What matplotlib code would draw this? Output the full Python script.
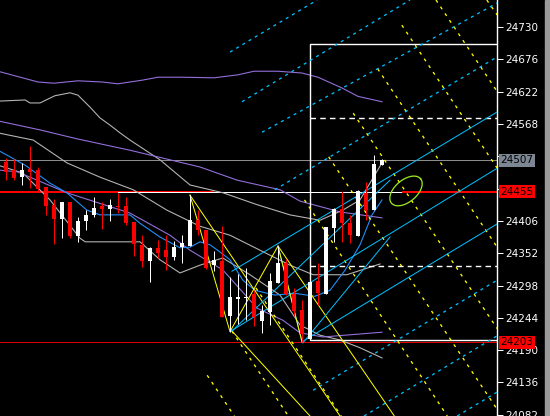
import numpy as np
import matplotlib
matplotlib.use('Agg')
import matplotlib.pyplot as plt

plt.rcParams['lines.scale_dashes'] = False

# candles: bar index 0..47
opens = [24505, 24491, 24480, 24493, 24491, 24463, 24433, 24409, 24438, 24380,
         24406, 24416, 24431, 24426, 24431, 24431, 24404, 24366, 24339, 24360,
         24357, 24345, 24363, 24364, 24408, 24390, 24332, 24339, 24247, 24275,
         24277, 24284, 24239, 24254, 24302, 24335, 24284, 24257, 24208, 24306,
         24284, 24394, 24425, 24403, 24381, 24452, 24424, 24499]
highs = [24511, 24509, 24502, 24531, 24496, 24463, 24442, 24438, 24438, 24412,
         24424, 24446, 24438, 24442, 24453, 24446, 24404, 24382, 24363, 24374,
         24382, 24373, 24382, 24449, 24424, 24390, 24355, 24397, 24312, 24317,
         24327, 24291, 24266, 24319, 24364, 24342, 24294, 24273, 24306, 24336,
         24396, 24427, 24456, 24416, 24458, 24471, 24516, 24509]
lows = [24474, 24474, 24466, 24461, 24455, 24416, 24368, 24377, 24377, 24370,
        24390, 24412, 24392, 24406, 24419, 24399, 24347, 24329, 24304, 24344,
        24324, 24341, 24336, 24364, 24382, 24325, 24323, 24246, 24221, 24234,
        24240, 24230, 24219, 24232, 24302, 24282, 24247, 24204, 24207, 24266,
        24284, 24370, 24371, 24369, 24381, 24408, 24424, 24499]
closes = [24488, 24478, 24491, 24487, 24460, 24431, 24409, 24437, 24381, 24406,
          24416, 24428, 24426, 24433, 24429, 24403, 24367, 24339, 24361, 24352,
          24345, 24363, 24369, 24408, 24390, 24328, 24341, 24246, 24278, 24278,
          24279, 24245, 24256, 24306, 24335, 24284, 24256, 24217, 24304, 24285,
          24396, 24425, 24403, 24382, 24456, 24424, 24501, 24507]

# bollinger (gray)
bb_up_x = [-1, 2.4, 3, 4.25, 6.1, 8, 9, 10.5, 11.75, 13, 14.25, 15.5, 19.25, 23, 27.1, 31.4, 35.5, 39.25, 42.1, 44.25, 47]
bb_up_y = [24606, 24608, 24603, 24603, 24615, 24620, 24616, 24596, 24578, 24566, 24553, 24541, 24508, 24466, 24453, 24433, 24416, 24407, 24424, 24441, 24503]
bb_mid_x = [-1, 3.4, 7.6, 11.75, 15.9, 20.1, 24.25, 28, 31.75, 35.5, 38.4, 42.6, 46.75]
bb_mid_y = [24553, 24541, 24503, 24479, 24458, 24424, 24397, 24382, 24357, 24332, 24316, 24316, 24334]
bb_low_x = [-1, 2.1, 5.5, 9.25, 9.9, 16.75, 19.25, 21.75, 24.25, 27.1, 30.5, 34.25, 36.75, 39.25, 41.75, 44.25, 47]
bb_low_y = [24499, 24486, 24441, 24377, 24371, 24371, 24341, 24319, 24332, 24344, 24316, 24282, 24232, 24215, 24207, 24194, 24177]

# second band (purple)
pu_up_x = [-1, 4, 6, 9, 12, 14, 17, 19, 22, 26, 29, 31, 34, 37, 39, 42, 44, 47]
pu_up_y = [24656, 24638, 24636, 24640, 24638, 24635, 24641, 24646, 24646, 24645, 24650, 24656, 24656, 24653, 24646, 24628, 24614, 24605]
pu_mid_x = [-1, 4.25, 8.9, 15.5, 24.25, 28.9, 34.25, 36.75, 41.75, 47]
pu_mid_y = [24573, 24558, 24543, 24524, 24496, 24474, 24458, 24439, 24421, 24411]
pu_low_x = [-1, 1.4, 7.6, 15.5, 20.5, 23, 27.1, 31.4, 34.6, 36.75, 39.6, 47]
pu_low_y = [24491, 24488, 24453, 24419, 24382, 24357, 24324, 24260, 24240, 24219, 24212, 24220]

# fast MA (blue)
ma_x = [-1, 2.4, 5.5, 7.6, 10.1, 11.75, 15.5, 16.75, 19.25, 21.75, 23, 24.25, 25.5, 26.75, 28,
        29.6, 31.1, 33.6, 36.1, 38.6, 40.5, 42.4, 44.25, 45.75, 47]
ma_y = [24524, 24499, 24469, 24453, 24424, 24416, 24416, 24402, 24379, 24361, 24362, 24371, 24366, 24354, 24341,
        24307, 24290, 24282, 24285, 24280, 24290, 24324, 24366, 24416, 24441]

# swing points (zigzag)
piv_x = [23, 28, 34, 37]
piv_y = [24449, 24221, 24364, 24204]

# yellow dashed parallels: (x0, p0, x1, p1)
yel_dash = [(25.15, 24148, 28.54, 24080), (28.23, 24222, 35.29, 24080), (31.24, 24294, 41.91, 24080),
            (37.31, 24441, 55.16, 24080), (40.33, 24513, 61.4, 24091), (43.4, 24586, 61.4, 24226),
            (46.46, 24660, 61.4, 24362), (49.48, 24733, 61.4, 24494), (53.75, 24775, 61.4, 24622),
            (60.1, 24775, 61.4, 24750)]
# yellow solid fan lines
yel_solid = [(23, 24449, 41.75, 24080), (28.25, 24222, 38, 24080), (34, 24364, 48.54, 24080)]

# cyan channel lines
cy_dash = [(28, 24688, 38.9, 24775), (29.5, 24605, 50.5, 24775), (32, 24554, 61.4, 24770),
           (33.6, 24458, 61.4, 24680), (38.4, 24123, 61.4, 24307), (44.75, 24080, 61.4, 24214),
           (56.4, 24080, 61.4, 24120)]
cy_solid = [(28.25, 24322, 61.4, 24588), (28, 24221, 61.4, 24494), (37, 24204, 61.4, 24401),
            (28.25, 24222, 48, 24474), (37.1, 24202, 48, 24379), (34, 24364, 37, 24204)]

# box
box_left, box_top, box_bot = 38, 24702, 24207
box_dash = [24578, 24331]

last_price = 24507
res_price = 24455
sup_price = 24203
ticks = [24082, 24136, 24190, 24244, 24298, 24352, 24406, 24460, 24514, 24568, 24622, 24676, 24730]
hidden = [24460, 24514]  # covered by price boxes

XMIN, XMAX = -0.75, 61.375
YMIN, YMAX = 24080, 24775

fig = plt.figure(figsize=(5.5, 4.16), dpi=100, facecolor='black')
ax = fig.add_axes([0, 0, 497 / 550, 1])
ax.set_facecolor('black')
ax.set_xlim(XMIN, XMAX)
ax.set_ylim(YMIN, YMAX)

px = 0.72  # one pixel in points
ydash = (0, (2.2, 3.6))
cdash = (0, (2.2, 3.0))

# horizontal levels
ax.axhline(last_price, color='#8c8c8c', lw=px, zorder=2)
ax.axhline(sup_price, color='#e00000', lw=px, zorder=2)
ax.plot([XMIN, 25.9], [res_price, res_price], color='#ff0000', lw=2 * px, zorder=2)
ax.plot([14, XMAX], [res_price - 1.5, res_price - 1.5], color='white', lw=px, zorder=2)
ax.plot([49.6, XMAX], [res_price, res_price], color='#ff0000', lw=2 * px, zorder=2)

# indicator lines
for xs, ys, c in [(bb_up_x, bb_up_y, '#b4b4b4'), (bb_mid_x, bb_mid_y, '#b4b4b4'), (bb_low_x, bb_low_y, '#b4b4b4'),
                  (pu_up_x, pu_up_y, '#9370db'), (pu_mid_x, pu_mid_y, '#9370db'), (pu_low_x, pu_low_y, '#9370db'),
                  (ma_x, ma_y, '#1e90ff')]:
    ax.plot(xs, ys, color=c, lw=px * 1.1, zorder=3)

# rectangle
ax.plot([XMAX, box_left, box_left, XMAX], [box_top, box_top, box_bot, box_bot], color='white', lw=1.4 * px, zorder=3)
for p in box_dash:
    ax.plot([box_left, XMAX], [p, p], color='white', lw=1.4 * px, ls=(0, (4, 3)), zorder=3)

# fib / gann lines
for x0, p0, x1, p1 in yel_dash:
    ax.plot([x0, x1], [p0, p1], color='#ffff00', lw=1.3 * px, ls=ydash, zorder=3)
for x0, p0, x1, p1 in cy_dash:
    ax.plot([x0, x1], [p0, p1], color='#00bfff', lw=1.3 * px, ls=cdash, zorder=3)
for x0, p0, x1, p1 in yel_solid:
    ax.plot([x0, x1], [p0, p1], color='#ffff00', lw=px, zorder=3)
for x0, p0, x1, p1 in cy_solid:
    ax.plot([x0, x1], [p0, p1], color='#00bfff', lw=px, zorder=3)
ax.plot(piv_x, piv_y, color='#ffff00', lw=px, zorder=3)

# candles
idx = np.arange(len(opens))
o = np.array(opens); c = np.array(closes)
col = np.where(c >= o, 'white', '#ff0000')
ax.vlines(idx, lows, highs, colors=col, lw=px, zorder=4)
ax.bar(idx, np.maximum(np.abs(c - o), 1.5), bottom=np.minimum(o, c), width=0.62, color=col, zorder=5, linewidth=0)

# ellipse marker
t = np.linspace(0, 2 * np.pi, 100)
ang = np.deg2rad(40)
a_px, b_px = 19, 11
dx = a_px * np.cos(t) * np.cos(ang) - b_px * np.sin(t) * np.sin(ang)
dy = a_px * np.cos(t) * np.sin(ang) + b_px * np.sin(t) * np.cos(ang)
ax.plot(50 + dx / 8, 24456 + dy * 1.6706, color='#99e620', lw=1.3 * px, zorder=6)

# axis
for s in ['top', 'left', 'bottom']:
    ax.spines[s].set_visible(False)
ax.spines['right'].set_color('white')
ax.spines['right'].set_linewidth(1.4 * px)
ax.set_xticks([])
ax.yaxis.tick_right()
ax.set_yticks(ticks)
ax.set_yticklabels(['' if v in hidden else str(v) for v in ticks])
ax.tick_params(axis='y', colors='white', length=4, width=px, labelsize=7.5, pad=2)

for p, bg in [(last_price, '#7d8794'), (res_price, '#ff0000'), (sup_price, '#ff0000')]:
    ax.text(1.007, p, str(p), transform=ax.get_yaxis_transform(), color='black', fontsize=7.5,
            va='center', ha='left', zorder=10, clip_on=False,
            bbox=dict(boxstyle='square,pad=0.12', fc=bg, ec='none'))

# right edge strip
fig.patches.append(plt.Rectangle((545 / 550, 0), 5 / 550, 1, transform=fig.transFigure, color='#9a9a9a'))

fig.savefig('out.png', dpi=100, facecolor='black')
